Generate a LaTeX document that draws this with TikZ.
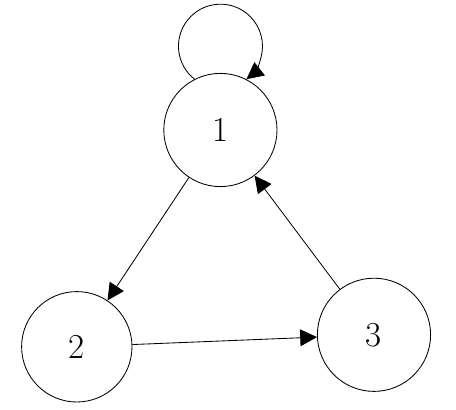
\documentclass[tikz,border=0pt]{standalone}
\usepackage{tikz}
\usetikzlibrary{arrows.meta, positioning}
\tikzset{
  state/.style={circle, draw=black, fill=white, minimum size=2.83cm,
    inner sep=0pt, font=\Huge, line width=0.6pt},
  arrow/.style={-{Triangle[length=0.42cm, width=0.42cm]}, line width=0.6pt, color=black}
}
\begin{document}
\begin{tikzpicture}
  \useasboundingbox (0,0) rectangle (11.4,10.25);
  \node[state] (n1) at (5.51,7.0) {1};
  \node[state, minimum size=2.76cm] (n2) at (1.92,1.58) {2};
  \node[state] (n3) at (9.35,1.88) {3};
  % self loop
  \draw[arrow] (n1.117.5) arc[start angle=231.8, end angle=-51.8, radius=1.05cm];
  \draw[arrow] (n1) -- (n2);
  \draw[arrow] (n2) -- (n3);
  \draw[arrow] (n3) -- (n1);
\end{tikzpicture}
\end{document}
